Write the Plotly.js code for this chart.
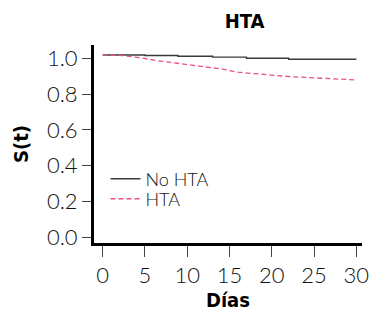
<!DOCTYPE html>
<html>
<head>
<meta charset="utf-8">
<script src="https://cdn.plot.ly/plotly-3.0.1.min.js"></script>
<style>
html,body{margin:0;padding:0;background:#fff;}
#chart{width:369px;height:313px;}
.gtitle, .xtitle, .ytitle{font-stretch:condensed;}
</style>
</head>
<body>
<div id="chart"></div>
<script>
// Data (Kaplan-Meier style survival curves)
const noHtaDays = [0, 5.0, 8.9, 13.0, 17.0, 22.0, 30];
const noHtaSurv = [1.018, 1.015, 1.011, 1.006, 1.000, 0.994, 0.994];
const htaDays = [0, 2.4, 4.4, 6.4, 8.8, 11.5, 14.2, 16.0, 19.0, 22.2, 26.1, 30];
const htaSurv = [1.018, 1.015, 1.003, 0.987, 0.972, 0.957, 0.939, 0.922, 0.911, 0.897, 0.888, 0.879];
const xTicks = [0, 5, 10, 15, 20, 25, 30];
const yTicks = [0.0, 0.2, 0.4, 0.6, 0.8, 1.0];
const yTickLabels = ['0.0', '0.2', '0.4', '0.6', '0.8', '1.0'];
const seriesNames = ['No HTA', 'HTA'];

const tickFont = {family: 'Lato, Open Sans, sans-serif', size: 22, color: '#111', weight: 300};
const boldFont = {family: 'DejaVu Sans, sans-serif', size: 20, color: '#000', weight: 'bold'};
const legendFont = {family: 'Lato, Open Sans, sans-serif', size: 18, color: '#111', weight: 300};

const traces = [
  {x: noHtaDays, y: noHtaSurv, name: seriesNames[0], type: 'scatter', mode: 'lines',
   legend: 'legend', line: {color: '#3a3a3a', width: 1.4, shape: 'hv'}},
  {x: htaDays, y: htaSurv, name: seriesNames[1], type: 'scatter', mode: 'lines',
   legend: 'legend2', line: {color: '#ee4f8c', width: 1.3, dash: '5px,3px'}}
];

const legendBase = {xanchor: 'left', yanchor: 'middle', bgcolor: 'rgba(0,0,0,0)',
                    font: legendFont, itemwidth: 30};

const layout = {
  width: 369, height: 313,
  margin: {l: 94, r: 7, t: 45, b: 70},
  paper_bgcolor: '#fff', plot_bgcolor: '#fff',
  title: {text: 'HTA', font: boldFont, xref: 'container', x: 0.663, xanchor: 'center',
          yref: 'container', y: 0.933, yanchor: 'middle'},
  xaxis: {range: [-1.03, 30.67], tickvals: xTicks, ticktext: xTicks.map(String),
          showgrid: false, zeroline: false, showline: true, linecolor: '#000', linewidth: 3,
          ticks: 'outside', ticklen: 11, tickwidth: 1, tickcolor: '#444',
          ticklabeloverflow: 'allow',
          tickfont: tickFont, title: {text: 'Días', font: boldFont, standoff: 5}},
  yaxis: {range: [-0.032, 1.074], tickvals: yTicks, ticktext: yTickLabels,
          showgrid: false, zeroline: false, showline: true, linecolor: '#000', linewidth: 3,
          ticks: 'outside', ticklen: 9, tickwidth: 1, tickcolor: '#444',
          tickfont: tickFont, title: {text: 'S(t)', font: boldFont, standoff: 13}},
  showlegend: true,
  legend: Object.assign({x: 0.043, y: 0.323}, legendBase),
  legend2: Object.assign({x: 0.043, y: 0.222}, legendBase)
};

Plotly.newPlot('chart', traces, layout, {displayModeBar: false, staticPlot: true});
</script>
</body>
</html>
